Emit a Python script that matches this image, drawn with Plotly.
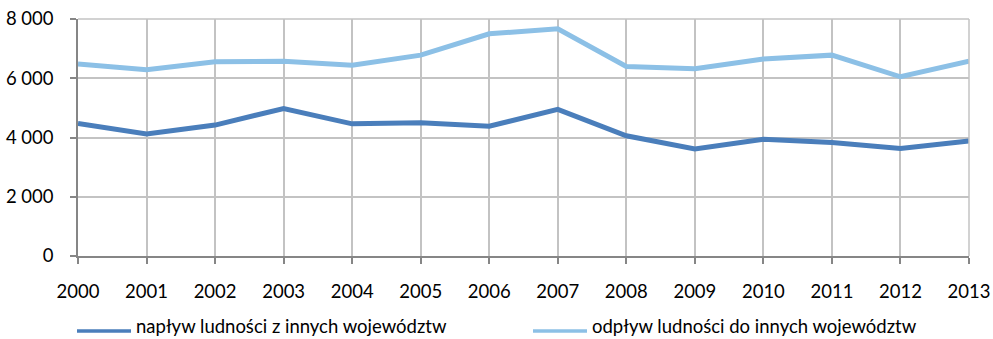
import plotly.graph_objects as go

years = list(range(2000, 2014))
naplyw = [4470, 4120, 4420, 4980, 4460, 4500, 4380, 4950, 4060, 3610, 3940, 3830, 3630, 3880]
odplyw = [6480, 6290, 6560, 6570, 6440, 6780, 7500, 7670, 6400, 6320, 6650, 6780, 6050, 6580]
series_names = ["napływ ludności z innych województw", "odpływ ludności do innych województw"]
series_colors = ["#4a7ebb", "#8cc0e6"]
y_ticks = [0, 2000, 4000, 6000, 8000]

FONT = "Lato"
FONT_SIZE = 18.5
AXIS_GREY = "#868686"
GRID_GREY = "#c3c3c3"

W, H = 993, 339
ML, MR, MT, MB = 78, 24, 19, 83
PW, PH = W - ML - MR, H - MT - MB


def px_to_paper(px, py):
    return (px - ML) / PW, (H - MB - py) / PH


fig = go.Figure()
for name, vals, col in zip(series_names, [naplyw, odplyw], series_colors):
    fig.add_trace(go.Scatter(x=years, y=vals, mode="lines", name=name,
                             line=dict(color=col, width=5)))

fig.update_layout(
    width=W, height=H,
    margin=dict(l=ML, r=MR, t=MT, b=MB, autoexpand=False),
    paper_bgcolor="white", plot_bgcolor="white",
    separators=", ",
    font=dict(family=FONT, size=FONT_SIZE, color="#000000"),
    showlegend=False,
)
fig.update_xaxes(
    range=[2000, 2013], tickmode="array", tickvals=years,
    ticktext=[str(y) for y in years],
    showgrid=True, gridcolor=GRID_GREY, gridwidth=1.5,
    showline=True, linecolor=AXIS_GREY, linewidth=1.5,
    ticks="outside", ticklen=6, tickcolor=AXIS_GREY, tickwidth=1.5,
    ticklabelstandoff=12, zeroline=False, fixedrange=True, automargin=False,
)
fig.update_yaxes(
    range=[0, 8000], tickmode="array", tickvals=y_ticks, tickformat=",d",
    showgrid=True, gridcolor=GRID_GREY, gridwidth=1.5,
    showline=True, linecolor=AXIS_GREY, linewidth=1.5,
    ticks="outside", ticklen=6, tickcolor=AXIS_GREY, tickwidth=1.5,
    ticklabelstandoff=13, zeroline=False, fixedrange=True, automargin=False,
)
# top and right edges of the plot area
fig.add_shape(type="line", xref="paper", yref="paper", x0=0, x1=1, y0=1, y1=1,
              line=dict(color=GRID_GREY, width=1.5))
fig.add_shape(type="line", xref="paper", yref="paper", x0=1, x1=1, y0=0, y1=1,
              line=dict(color=GRID_GREY, width=1.5))

# legend below the plot: a line sample followed by the series name
legend_starts = [77, 533]
sample_y, text_y = 331, 326
for name, col, x0 in zip(series_names, series_colors, legend_starts):
    sx0, sy = px_to_paper(x0, sample_y)
    sx1, _ = px_to_paper(x0 + 54, sample_y)
    fig.add_shape(type="line", xref="paper", yref="paper",
                  x0=sx0, x1=sx1, y0=sy, y1=sy,
                  line=dict(color=col, width=3.5))
    tx, ty = px_to_paper(x0 + 57, text_y)
    fig.add_annotation(text=name, xref="paper", yref="paper", x=tx, y=ty,
                       xanchor="left", yanchor="middle", showarrow=False,
                       font=dict(family=FONT, size=FONT_SIZE, color="#000000"))

fig.write_html("out.html")
